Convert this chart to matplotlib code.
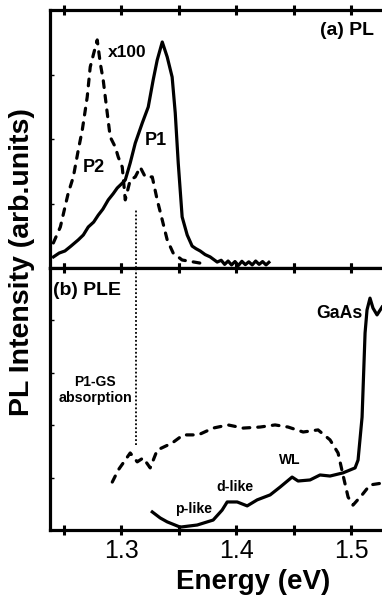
import matplotlib
matplotlib.use('Agg')
import matplotlib.pyplot as plt
from matplotlib.ticker import MultipleLocator

plt.rcParams['font.family'] = ['Liberation Sans', 'DejaVu Sans']

# (a) PL spectra, normalised intensity
plE1 = [1.241, 1.246, 1.251, 1.256, 1.2626, 1.267, 1.2713, 1.276, 1.280, 1.284,
        1.2887, 1.293, 1.2965, 1.300, 1.3035, 1.3078, 1.3122, 1.3183, 1.3235, 1.3278,
        1.3313, 1.3357, 1.3400, 1.3443, 1.3470, 1.3496, 1.3530, 1.3574, 1.3617, 1.3650,
        1.3687, 1.3730, 1.3774, 1.3835, 1.3870, 1.3900, 1.3930, 1.3960, 1.3990, 1.4020,
        1.4050, 1.4080, 1.4110, 1.4140, 1.4170, 1.4200, 1.4230, 1.4260, 1.4285]
plP1 = [0.043, 0.058, 0.066, 0.084, 0.109, 0.128, 0.159, 0.178, 0.205, 0.228,
        0.264, 0.288, 0.310, 0.325, 0.341, 0.407, 0.484, 0.562, 0.624, 0.729,
        0.806, 0.876, 0.818, 0.740, 0.601, 0.407, 0.198, 0.128, 0.085, 0.075,
        0.066, 0.052, 0.043, 0.023, 0.030, 0.014, 0.027, 0.012, 0.025, 0.010,
        0.026, 0.013, 0.024, 0.012, 0.027, 0.014, 0.025, 0.012, 0.022]

plE2 = [1.2409, 1.2470, 1.2539, 1.2583, 1.2626, 1.2661, 1.2687, 1.2704, 1.2730, 1.2757,
        1.2791, 1.2817, 1.2843, 1.2878, 1.2904, 1.2948, 1.2974, 1.3009, 1.3035, 1.3078,
        1.3122, 1.3165, 1.3209, 1.3270, 1.3313, 1.3357, 1.3400, 1.3452, 1.3530, 1.3687]
plP2 = [0.097, 0.159, 0.291, 0.353, 0.457, 0.535, 0.612, 0.663, 0.779, 0.826,
        0.884, 0.795, 0.729, 0.601, 0.508, 0.469, 0.430, 0.391, 0.264, 0.341,
        0.353, 0.391, 0.353, 0.353, 0.264, 0.186, 0.109, 0.058, 0.031, 0.019]

# (b) PLE spectra
pleE1 = [1.3270, 1.3339, 1.3400, 1.3513, 1.3661, 1.3800, 1.3878, 1.3922, 1.4009, 1.4096,
         1.4183, 1.4296, 1.4383, 1.4487, 1.4539, 1.4643, 1.4730, 1.4817, 1.4930, 1.5035,
         1.5061, 1.5096, 1.5122, 1.5139, 1.5165, 1.5191, 1.5226, 1.5270]
pleS1 = [0.069, 0.046, 0.031, 0.011, 0.019, 0.038, 0.076, 0.107, 0.107, 0.092,
         0.115, 0.134, 0.164, 0.202, 0.187, 0.191, 0.210, 0.206, 0.218, 0.237,
         0.267, 0.431, 0.752, 0.840, 0.885, 0.847, 0.821, 0.851]

pleE2 = [1.2922, 1.2974, 1.3078, 1.3139, 1.3191, 1.3252, 1.3313, 1.3443, 1.3539, 1.3670,
         1.3800, 1.3930, 1.4061, 1.4209, 1.4339, 1.4452, 1.4583, 1.4713, 1.4817, 1.4887,
         1.4930, 1.4974, 1.5017, 1.5096, 1.5165, 1.5270]
pleS2 = [0.183, 0.229, 0.294, 0.260, 0.275, 0.237, 0.305, 0.332, 0.363, 0.363,
         0.389, 0.401, 0.389, 0.393, 0.401, 0.393, 0.374, 0.382, 0.344, 0.294,
         0.210, 0.126, 0.095, 0.134, 0.172, 0.179]

gsEnergy = 1.313
xTicks = [1.3, 1.4, 1.5]

fig = plt.figure(figsize=(3.82, 6.06), dpi=100)
axA = fig.add_axes([50/382, 1 - 268/606, 358.5/382, 258/606])
axB = fig.add_axes([50/382, 1 - 530/606, 358.5/382, 262/606], sharex=axA)

lw = 2.3
dashKw = dict(color='k', lw=lw, linestyle=(0, (2.1, 2.5)), dash_capstyle='round')

axA.plot(plE1, plP1, color='k', lw=lw)
axA.plot(plE2, plP2, **dashKw)
axA.plot([gsEnergy, gsEnergy], [0, 0.225], color='k', lw=1.3, linestyle=(0, (1, 1.2)))

axB.plot(pleE1, pleS1, color='k', lw=lw)
axB.plot(pleE2, pleS2, **dashKw)
axB.plot([gsEnergy, gsEnergy], [0.324, 1.0], color='k', lw=1.3, linestyle=(0, (1, 1.2)))

for ax in (axA, axB):
    ax.set_ylim(0, 1)
    for s in ax.spines.values():
        s.set_linewidth(2.3)
    ax.spines['right'].set_visible(False)
    ax.xaxis.set_major_locator(MultipleLocator(0.1))
    ax.xaxis.set_minor_locator(MultipleLocator(0.05))
    ax.tick_params(axis='x', which='both', direction='inout', length=7, width=2.2,
                   top=True, bottom=True)
    ax.tick_params(axis='y', which='both', direction='in', length=3, width=1,
                   left=True, right=False, labelleft=False)

axA.set_xlim(1.238, 1.55)
axA.set_yticks([0.25, 0.5, 0.75])
axB.set_yticks([0.2, 0.4, 0.6, 0.8])
axA.tick_params(axis='x', labelbottom=False)
axB.set_xticks(xTicks)
axB.set_xticklabels([f'{t:.1f}' for t in xTicks])
axB.tick_params(axis='x', which='major', labelsize=18, pad=3)

bold = dict(fontweight='bold', color='k')
axA.text(1.473, 0.922, '(a) PL', fontsize=14, ha='left', va='center', **bold)
axA.text(1.2887, 0.837, 'x100', fontsize=12.5, ha='left', va='center', **bold)
axA.text(1.3304, 0.496, 'P1', fontsize=13, ha='center', va='center', **bold)
axA.text(1.2761, 0.388, 'P2', fontsize=13, ha='center', va='center', **bold)

axB.text(1.2409, 0.916, '(b) PLE', fontsize=14, ha='left', va='center', **bold)
axB.text(1.5104, 0.828, 'GaAs', fontsize=12.7, ha='right', va='center', **bold)
axB.text(1.2774, 0.563, 'P1-GS', fontsize=10, ha='center', va='center', **bold)
axB.text(1.2774, 0.504, 'absorption', fontsize=10.3, ha='center', va='center', **bold)
axB.text(1.447, 0.267, 'WL', fontsize=10, ha='center', va='center', **bold)
axB.text(1.3991, 0.164, 'd-like', fontsize=10.2, ha='center', va='center', **bold)
axB.text(1.3626, 0.080, 'p-like', fontsize=10.2, ha='center', va='center', **bold)

fig.text(22/382, 1 - 262/606, 'PL Intensity (arb.units)', rotation=90, fontsize=20.5,
         ha='center', va='center', **bold)
fig.text(253/382, 1 - 582/606, 'Energy (eV)', fontsize=20, ha='center', va='center', **bold)

fig.savefig('out.png', dpi=100)
